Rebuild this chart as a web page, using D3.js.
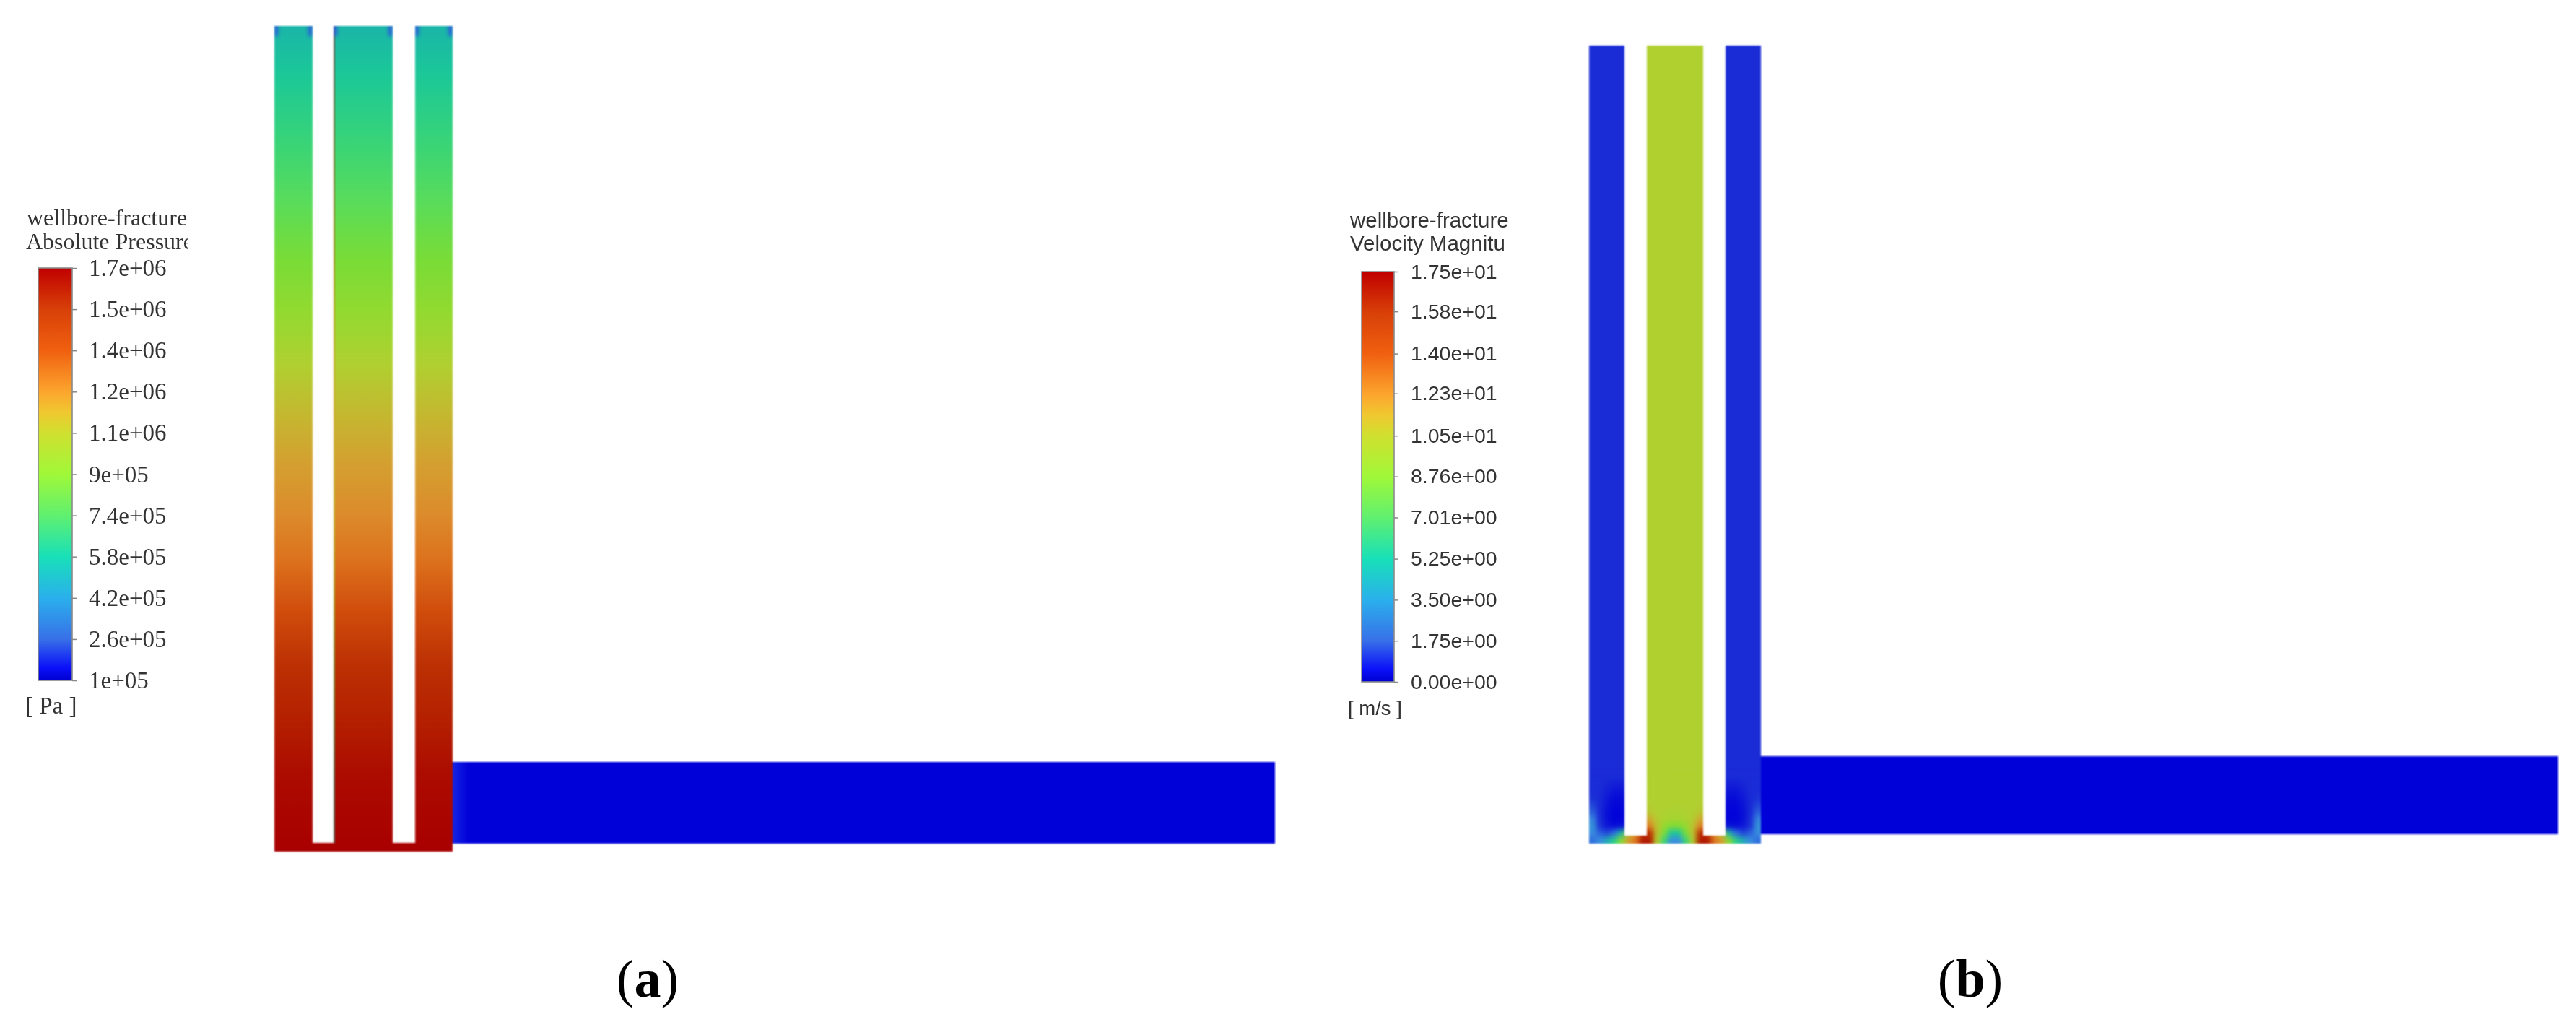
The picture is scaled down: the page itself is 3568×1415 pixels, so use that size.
<!DOCTYPE html>
<html><head><meta charset="utf-8">
<script src="https://cdn.jsdelivr.net/npm/d3@7"></script>
<style>html,body{margin:0;padding:0;background:#fff}svg{display:block}</style>
</head><body><div id="chart"></div>
<script>
// ---------- data ----------
const pressureTicks  = [1e5,2.6e5,4.2e5,5.8e5,7.4e5,9e5,1.06e6,1.22e6,1.38e6,1.54e6,1.7e6];
const pressureLabels = ["1e+05","2.6e+05","4.2e+05","5.8e+05","7.4e+05","9e+05","1.1e+06","1.2e+06","1.4e+06","1.5e+06","1.7e+06"];
const velocityTicks  = [0,1.75,3.5,5.25,7.01,8.76,10.5,12.3,14,15.8,17.5];
const velocityLabels = ["0.00e+00","1.75e+00","3.50e+00","5.25e+00","7.01e+00","8.76e+00","1.05e+01","1.23e+01","1.40e+01","1.58e+01","1.75e+01"];
// pressure down the wellbore (depth in % of the well length)
const wellDepth    = [0,6,14,21,28,34.5,41,47,53,59,65,71,77.5,84,90.5,100];
const wellPressure = [5e5,5.6e5,6.4e5,7e5,7.8e5,8.6e5,9.6e5,1.06e6,1.14e6,1.22e6,1.3e6,1.38e6,1.46e6,1.54e6,1.61e6,1.68e6];
const cornerPressure = 3e5;
const fracturePressure = 1e5;
// velocity
const sideColumnVelocity = 1.4, midColumnVelocity = 9.4, fractureVelocity = 0;
// velocity near the well bottom, rows top to bottom, columns left to right
const velocityGrid = [
 [1.4,1.4,1.4,1.4,1.4, 1.4,1.4,9.4, 9.4,9.4,9.4,9.4,9.4,9.4,9.4,9.4, 9.4,1.4,1.4, 1.4,1.4,1.4,1.4,1.4],
 [1.4,1.4,1.2,1.0,1.0, 1.0,1.0,9.4, 9.4,9.4,9.4,9.4,9.4,9.4,9.4,9.4, 9.4,1.0,1.0, 1.0,1.0,1.2,1.4,1.4],
 [1.4,1.4,1.0,0.7,0.7, 0.7,0.7,9.4, 9.4,9.4,9.4,9.4,9.4,9.4,9.4,9.4, 9.4,0.7,0.7, 0.7,0.7,1.0,1.4,1.4],
 [1.5,1.3,0.8,0.4,0.4, 0.4,0.4,9.4, 9.4,9.4,9.4,9.4,9.4,9.4,9.4,9.4, 9.4,0.4,0.4, 0.4,0.4,0.8,1.3,1.5],
 [1.8,1.3,0.6,0.2,0.2, 0.2,0.2,9.5, 9.5,9.4,9.4,9.4,9.4,9.4,9.4,9.5, 9.5,0.2,0.2, 0.2,0.2,0.6,1.3,1.8],
 [2.2,1.3,0.5,0.1,0.1, 0.1,0.1,9.8, 9.8,9.4,9.3,9.2,9.2,9.3,9.4,9.8, 9.8,0.1,0.1, 0.1,0.1,0.5,1.3,2.2],
 [2.8,1.4,0.5,0.1,0.1, 0.1,0.1,11.0, 11.0,9.6,9.2,9.0,9.0,9.2,9.6,11.0, 11.0,0.1,0.1, 0.1,0.1,0.5,1.4,2.8],
 [3.2,1.5,0.7,0.4,0.6, 0.6,0.6,12.5, 12.5,10.0,8.4,7.8,7.8,8.4,10.0,12.5, 12.5,0.6,0.6, 0.6,0.4,0.7,1.5,3.2],
 [3.0,2.2,1.8,2.5,4.5, 10,12,15, 15,10,7.5,5.0,5.0,7.5,10,15, 15,12,10, 4.5,2.5,1.8,2.2,3.0],
 [2.5,3.0,4.0,5.5,8.0, 11.5,13,16, 16,9.5,6.0,3.0,3.0,6.0,9.5,16, 16,13,11.5, 8.0,5.5,4.0,3.0,2.5]
];

// ---------- colour ramps (normalised position -> colour) ----------
const legendStops = [0,.03,.1,.2,.3,.4,.5,.6,.65,.7,.8,.9,1];
const legendCols  = ["#0000d0","#0a10f8","#3870e8","#2ab0ec","#18e0b8","#60f070","#a0f838","#d0e030","#f0c830","#fca52e","#f06010","#d84008","#c00000"];
const fieldStops  = [0,.08,.17,.25,.2875,.3375,.375,.425,.475,.5375,.6,.65,.7,.75,.8,.85,.9,.94375,.975,1];
const fieldCols   = ["#0000d8","#1a2cd6","#3a8ee0","#1ab5a8","#1cc898","#38d478","#58dc5c","#78dc38","#92da30","#b0d030","#c4b830","#d4a030","#dc8c2c","#dc701c","#d04c0c","#bc3004","#b42000","#ac0c00","#a80000","#a80000"];
const legendColor = d3.scaleLinear().domain(legendStops).range(legendCols);
const fieldColor  = d3.scaleLinear().domain(fieldStops).range(fieldCols);

// ---------- layout ----------
const W = 3568, H = 1415;
const A = {cols:[[380,433],[462,544],[575,627]], top:36, bottom:1179, channelTop:1167, frac:[627,1766,1055,1168]};
const B = {cols:[[2201,2250],[2281,2359],[2390,2439]], top:63, bottom:1168, channelTop:1157, frac:[2439,3543,1047,1155], gridTop:1070};

const svg = d3.select("#chart").append("svg").attr("width",W).attr("height",H).attr("viewBox",[0,0,W,H]);
const defs = svg.append("defs");
function blur(id,s){
  defs.append("filter").attr("id",id).attr("filterUnits","userSpaceOnUse")
    .attr("x",0).attr("y",0).attr("width",W).attr("height",H)
    .attr("color-interpolation-filters","sRGB")
    .append("feGaussianBlur").attr("stdDeviation",s);
}
blur("soft",1.0); blur("textSoft",0.75); blur("wide",3.5); blur("corner",2.5);

function combPath(P){
  const p = d3.path(), c = P.cols;
  p.moveTo(c[0][0],P.top); p.lineTo(c[0][1],P.top); p.lineTo(c[0][1],P.channelTop);
  p.lineTo(c[1][0],P.channelTop); p.lineTo(c[1][0],P.top); p.lineTo(c[1][1],P.top);
  p.lineTo(c[1][1],P.channelTop); p.lineTo(c[2][0],P.channelTop); p.lineTo(c[2][0],P.top);
  p.lineTo(c[2][1],P.top); p.lineTo(c[2][1],P.bottom); p.lineTo(c[0][0],P.bottom); p.closePath();
  return p.toString();
}

// ---------- panel (a): pressure ----------
const pNorm = d3.scaleLinear().domain([1e5,1.7e6]).range([0,1]);
const depthY = d3.scaleLinear().domain([0,100]).range([A.top,A.bottom]);
const wellGrad = defs.append("linearGradient").attr("id","wellGrad").attr("gradientUnits","userSpaceOnUse")
  .attr("x1",0).attr("x2",0).attr("y1",depthY(0)).attr("y2",depthY(100));
wellGrad.selectAll("stop").data(wellDepth).join("stop")
  .attr("offset",d=>d/100).attr("stop-color",(d,i)=>fieldColor(pNorm(wellPressure[i])));
const edgeGrad = defs.append("linearGradient").attr("id","edgeGrad").attr("gradientUnits","userSpaceOnUse")
  .attr("x1",0).attr("x2",0).attr("y1",depthY(0)).attr("y2",depthY(100));
edgeGrad.selectAll("stop").data(wellDepth).join("stop")
  .attr("offset",d=>d/100).attr("stop-color",(d,i)=>fieldColor(pNorm(wellPressure[wellPressure.length-1-i])));
const fracGrad = defs.append("linearGradient").attr("id","fracGrad");
fracGrad.append("stop").attr("offset",0).attr("stop-color","#1424e2");
fracGrad.append("stop").attr("offset",1).attr("stop-color",fieldColor(pNorm(fracturePressure)));

defs.append("clipPath").attr("id","clipA").append("path").attr("d",combPath(A));
defs.append("clipPath").attr("id","clipB").append("path").attr("d",combPath(B));

const ga = svg.append("g").attr("filter","url(#soft)");
ga.append("rect").attr("x",A.frac[0]).attr("width",A.frac[1]-A.frac[0]).attr("y",A.frac[2]).attr("height",A.frac[3]-A.frac[2])
  .attr("fill",fieldColor(pNorm(fracturePressure)));
ga.append("rect").attr("x",A.frac[0]).attr("width",22).attr("y",A.frac[2]).attr("height",A.frac[3]-A.frac[2]).attr("fill","url(#fracGrad)");
ga.append("path").attr("d",combPath(A)).attr("fill","url(#wellGrad)");
const gaClip = ga.append("g").attr("clip-path","url(#clipA)");
gaClip.append("rect").attr("x",A.cols[1][0]-1).attr("width",3).attr("y",A.top).attr("height",A.channelTop-A.top)
  .attr("fill","url(#edgeGrad)").attr("opacity",0.5);
const corners = gaClip.append("g").attr("filter","url(#corner)");
A.cols.forEach(c=>{
  [c[0],c[1]-5].forEach(x=>{
    corners.append("rect").attr("x",x-1).attr("width",6).attr("y",A.top-4).attr("height",18)
      .attr("fill",fieldColor(pNorm(cornerPressure)));
  });
});

// ---------- panel (b): velocity ----------
const vNorm = d3.scaleLinear().domain([0,17.5]).range([0,1]);
const gb = svg.append("g").attr("filter","url(#soft)");
gb.append("rect").attr("x",B.frac[0]).attr("width",B.frac[1]-B.frac[0]).attr("y",B.frac[2]).attr("height",B.frac[3]-B.frac[2])
  .attr("fill",fieldColor(vNorm(fractureVelocity)));
const gbClip = gb.append("g").attr("clip-path","url(#clipB)");
[sideColumnVelocity,midColumnVelocity,sideColumnVelocity].forEach((v,i)=>{
  const c = B.cols[i];
  gbClip.append("rect").attr("x",c[0]).attr("width",c[1]-c[0]).attr("y",B.top).attr("height",B.bottom-B.top)
    .attr("fill",fieldColor(vNorm(v)));
});
const nR = velocityGrid.length, nC = velocityGrid[0].length;
const gx = d3.scaleBand().domain(d3.range(nC)).range([B.cols[0][0],B.cols[2][1]]);
const gy = d3.scaleBand().domain(d3.range(nR)).range([B.gridTop,B.bottom]);
const cells = velocityGrid.flatMap((r,i)=>r.map((v,j)=>({i,j,v})));
const PAD = 14;
gbClip.append("g").attr("filter","url(#wide)").selectAll("rect").data(cells).join("rect")
  .attr("x",d=>gx(d.j)-(d.j===0?PAD:0))
  .attr("y",d=>gy(d.i))
  .attr("width",d=>gx.bandwidth()+(d.j===0||d.j===nC-1?PAD:0)+.5)
  .attr("height",d=>gy.bandwidth()+(d.i===nR-1?PAD:0)+.5)
  .attr("fill",d=>fieldColor(vNorm(d.v)));

// ---------- colour legends ----------
function legend(o){
  const y = d3.scaleLinear().domain(o.domain).range([o.y1,o.y0]);
  const gid = o.id+"Grad";
  const g = defs.append("linearGradient").attr("id",gid).attr("x1",0).attr("x2",0).attr("y1",1).attr("y2",0);
  g.selectAll("stop").data(legendStops).join("stop").attr("offset",d=>d).attr("stop-color",d=>legendColor(d));
  const L = svg.append("g").attr("filter","url(#textSoft)").attr("font-family",o.font).attr("fill","#333");
  L.append("rect").attr("x",o.x0).attr("y",o.y0).attr("width",o.x1-o.x0).attr("height",o.y1-o.y0)
    .attr("fill",`url(#${gid})`).attr("stroke","#8a8a8a").attr("stroke-width",1.6);
  const ax = d3.axisRight(y).tickValues(o.ticks).tickSize(6).tickPadding(o.pad).tickFormat((d,i)=>o.labels[i]);
  const A_ = L.append("g").attr("transform",`translate(${o.x1},0)`).call(ax);
  A_.select(".domain").remove();
  A_.selectAll("line").attr("stroke","#888").attr("stroke-width",1.5);
  A_.selectAll("text").attr("font-size",o.size).attr("font-family",o.font).attr("fill","#333");
  const cid = o.id+"Clip";
  defs.append("clipPath").attr("id",cid).append("rect").attr("x",0).attr("y",0).attr("width",o.titleClip).attr("height",H);
  const T = L.append("g").attr("clip-path",`url(#${cid})`).attr("font-size",o.titleSize);
  T.append("text").attr("x",o.titleX).attr("y",o.titleY[0]).attr("dy",".35em").text(o.title[0]);
  T.append("text").attr("x",o.titleX2).attr("y",o.titleY[1]).attr("dy",".35em").text(o.title[1]);
  L.append("text").attr("x",o.unitX).attr("y",o.unitY).attr("dy",".35em").attr("font-size",o.unitSize).text(o.unit);
}
legend({id:"lp",font:"'Liberation Serif',serif",domain:[1e5,1.7e6],ticks:pressureTicks,labels:pressureLabels,
  x0:53,x1:100,y0:371,y1:942,pad:17,size:33,
  title:["wellbore-fracture","Absolute Pressure"],titleX:37,titleX2:36,titleY:[301,334],titleSize:32,titleClip:260,
  unit:"[ Pa ]",unitX:35,unitY:976,unitSize:33});
legend({id:"lv",font:"'Liberation Sans',Arial,sans-serif",domain:[0,17.5],ticks:velocityTicks,labels:velocityLabels,
  x0:1886,x1:1931,y0:376,y1:944,pad:17,size:28.5,
  title:["wellbore-fracture","Velocity Magnitu"],titleX:1870,titleX2:1870,titleY:[305,337],titleSize:29.5,titleClip:2091,
  unit:"[ m/s ]",unitX:1867,unitY:980,unitSize:27.5});

// ---------- captions ----------
const panelLetters = ["a","b"];
const captionCenters = [897,2729];
const cap = svg.append("g").attr("font-family","'Liberation Serif',serif").attr("font-size",74).attr("fill","#000").attr("text-anchor","middle");
panelLetters.forEach((l,i)=>{
  const t = cap.append("text").attr("x",captionCenters[i]).attr("y",1380);
  t.append("tspan").text("(");
  t.append("tspan").attr("font-weight","bold").text(l);
  t.append("tspan").text(")");
});
</script></body></html>
